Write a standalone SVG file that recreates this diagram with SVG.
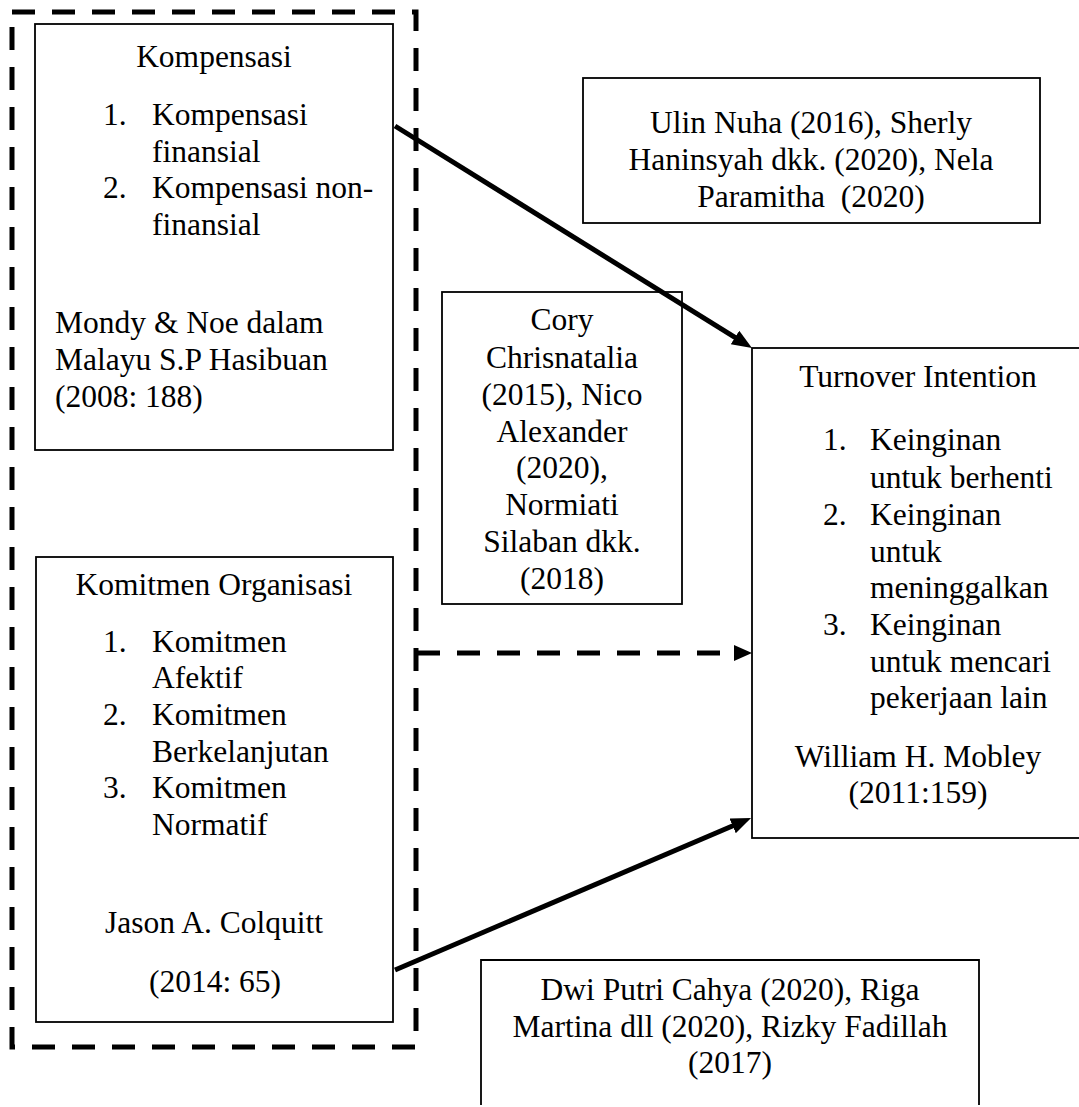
<svg xmlns="http://www.w3.org/2000/svg" width="1079" height="1107" viewBox="0 0 1079 1107">
<style>
text{font-family:"Liberation Serif","Times New Roman",serif;font-size:31.5px;fill:#000}
.c{text-anchor:middle}
.box{fill:#fff;stroke:#000;stroke-width:1.8}
.dash{fill:none;stroke:#000;stroke-width:5;stroke-dasharray:23 17}
.arrow{fill:none;stroke:#000;stroke-width:5}
</style>
<defs>
<marker id="ah" markerUnits="userSpaceOnUse" markerWidth="22" markerHeight="18" refX="8" refY="8" orient="auto">
<path d="M0,0 L20,8 L0,16 z" fill="#000"/>
</marker>
<marker id="ahd" markerUnits="userSpaceOnUse" markerWidth="20" markerHeight="18" refX="0" refY="8" orient="auto">
<path d="M0,0 L18,8 L0,16 z" fill="#000"/>
</marker>
</defs>
<rect id="group-border" class="dash" x="12" y="12" width="404" height="1035"/>
<g id="node-kompensasi">
<rect class="box" x="35" y="24" width="358" height="426"/>
<text class="c" x="214" y="67">Kompensasi</text>
<text x="103" y="125">1.</text><text x="152" y="125">Kompensasi</text>
<text x="152" y="162">finansial</text>
<text x="103" y="198">2.</text><text x="152" y="198">Kompensasi non-</text>
<text x="152" y="235">finansial</text>
<text x="55" y="333">Mondy &amp; Noe dalam</text>
<text x="55" y="370">Malayu S.P Hasibuan</text>
<text x="55" y="407">(2008: 188)</text>
</g>
<g id="node-komitmen">
<rect class="box" x="36" y="557" width="357" height="465"/>
<text class="c" x="214" y="595">Komitmen Organisasi</text>
<text x="103" y="652">1.</text><text x="152" y="652">Komitmen</text>
<text x="152" y="688">Afektif</text>
<text x="103" y="725">2.</text><text x="152" y="725">Komitmen</text>
<text x="152" y="762">Berkelanjutan</text>
<text x="103" y="798">3.</text><text x="152" y="798">Komitmen</text>
<text x="152" y="835">Normatif</text>
<text class="c" x="214" y="933">Jason A. Colquitt</text>
<text class="c" x="215" y="992">(2014: 65)</text>
</g>
<g id="node-ulin">
<rect class="box" x="583" y="78" width="457" height="145"/>
<text class="c" x="811" y="133">Ulin Nuha (2016), Sherly</text>
<text class="c" x="811" y="170">Haninsyah dkk. (2020), Nela</text>
<text class="c" x="811" y="207" xml:space="preserve">Paramitha  (2020)</text>
</g>
<g id="node-cory">
<rect class="box" x="442" y="292" width="240" height="312"/>
<text class="c" x="562" y="330">Cory</text>
<text class="c" x="562" y="368">Chrisnatalia</text>
<text class="c" x="562" y="405">(2015), Nico</text>
<text class="c" x="562" y="442">Alexander</text>
<text class="c" x="562" y="478">(2020),</text>
<text class="c" x="562" y="515">Normiati</text>
<text class="c" x="562" y="552">Silaban dkk.</text>
<text class="c" x="562" y="589">(2018)</text>
</g>
<g id="node-turnover">
<rect class="box" x="752" y="348" width="340" height="490"/>
<text class="c" x="918" y="387">Turnover Intention</text>
<text x="823" y="450">1.</text><text x="870" y="450">Keinginan</text>
<text x="870" y="488">untuk berhenti</text>
<text x="823" y="525">2.</text><text x="870" y="525">Keinginan</text>
<text x="870" y="562">untuk</text>
<text x="870" y="598">meninggalkan</text>
<text x="823" y="635">3.</text><text x="870" y="635">Keinginan</text>
<text x="870" y="672">untuk mencari</text>
<text x="870" y="708">pekerjaan lain</text>
<text class="c" x="918" y="767">William H. Mobley</text>
<text class="c" x="918" y="803">(2011:159)</text>
</g>
<g id="node-dwi">
<path class="box" d="M481,1105 L481,960 L979,960 L979,1105"/>
<text class="c" x="730" y="1000">Dwi Putri Cahya (2020), Riga</text>
<text class="c" x="730" y="1037">Martina dll (2020), Rizky Fadillah</text>
<text class="c" x="730" y="1073">(2017)</text>
</g>
<g id="connectors">
<line class="arrow" x1="395" y1="126" x2="741.8" y2="341.7" marker-end="url(#ah)"/>
<line class="dash" x1="417" y1="653" x2="734" y2="653" marker-end="url(#ahd)"/>
<line class="arrow" x1="395" y1="970" x2="740" y2="822.7" marker-end="url(#ah)"/>
</g>
</svg>
